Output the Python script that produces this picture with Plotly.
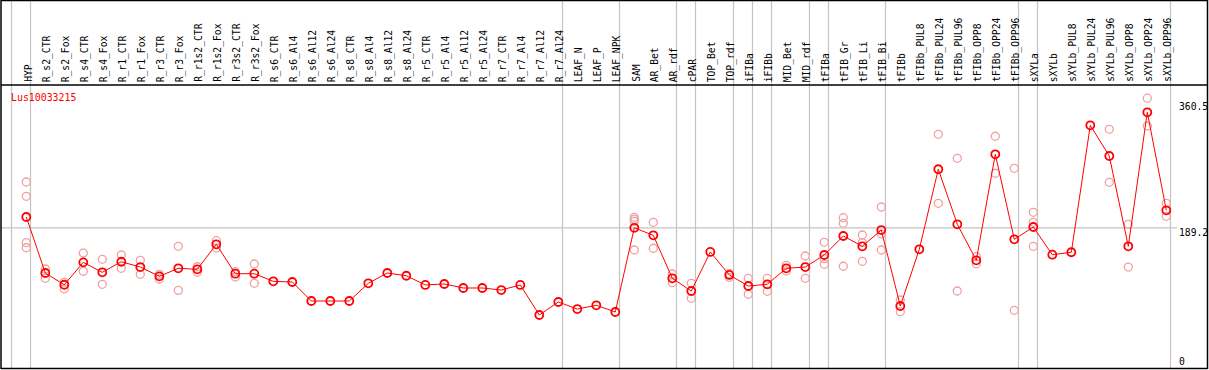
import plotly.graph_objects as go

# ---------------- data ----------------
categories = [
    "HYP", "R_s2_CTR", "R_s2_Fox", "R_s4_CTR", "R_s4_Fox", "R_r1_CTR", "R_r1_Fox",
    "R_r3_CTR", "R_r3_Fox", "R_r1s2_CTR", "R_r1s2_Fox", "R_r3s2_CTR", "R_r3s2_Fox",
    "R_s6_CTR", "R_s6_Al4", "R_s6_Al12", "R_s6_Al24", "R_s8_CTR", "R_s8_Al4",
    "R_s8_Al12", "R_s8_Al24", "R_r5_CTR", "R_r5_Al4", "R_r5_Al12", "R_r5_Al24",
    "R_r7_CTR", "R_r7_Al4", "R_r7_Al12", "R_r7_Al24", "LEAF_N", "LEAF_P", "LEAF_NPK",
    "SAM", "AR_Bet", "AR_rdf", "cPAR", "TOP_Bet", "TOP_rdf", "iFIBa", "iFIBb",
    "MID_Bet", "MID_rdf", "tFIBa", "tFIB_Gr", "tFIB_Li", "tFIB_Bi", "tFIBb",
    "tFIBb_PUL8", "tFIBb_PUL24", "tFIBb_PUL96", "tFIBb_OPP8", "tFIBb_OPP24",
    "tFIBb_OPP96", "sXYLa", "sXYLb", "sXYLb_PUL8", "sXYLb_PUL24", "sXYLb_PUL96",
    "sXYLb_OPP8", "sXYLb_OPP24", "sXYLb_OPP96",
]

mean_values = [
    203.5, 129.5, 114.0, 143.6, 130.4, 144.4, 137.4, 125.1, 135.7, 134.4,
    167.4, 128.6, 128.6, 118.5, 117.6, 92.5, 92.5, 92.5, 115.9, 129.5,
    125.9, 113.7, 115.0, 109.7, 109.7, 107.0, 113.7, 74.0, 91.2, 81.9,
    86.8, 78.0, 189.2, 179.3, 122.5, 105.7, 157.3, 126.9, 112.3, 114.6,
    135.7, 137.4, 153.3, 178.4, 164.8, 186.3, 85.9, 160.8, 266.6, 193.9,
    146.3, 286.4, 174.0, 190.3, 153.7, 156.9, 324.7, 284.1, 164.8, 341.9,
    212.4,
]

replicate_values = [
    [249.8, 230.9, 169.6, 162.9], [134.8, 122.5], [117.2, 108.4], [155.9, 131.8],
    [147.6, 114.6], [153.3, 135.7], [146.3, 127.8], [127.8, 121.6], [164.8, 106.6],
    [137.8, 130.4], [172.2, 162.5], [131.2, 124.2], [141.4, 115.9],
    [], [], [], [], [], [], [], [], [], [], [], [], [], [], [], [], [], [], [],
    [203.1, 200.5, 197.8, 159.9], [196.5, 162.2], [128.2, 116.7], [115.9, 96.1],
    [], [128.6, 123.8], [122.5, 101.4], [122.5, 105.3], [139.7, 132.2],
    [152.0, 122.5], [170.1, 148.4, 141.0], [202.6, 195.2, 138.4],
    [179.7, 169.6, 145.0], [216.7, 181.0, 159.9], [93.8, 78.4], [],
    [312.8, 221.6], [281.1, 105.7], [151.1, 141.8], [310.2, 261.3], [267.9, 80.2],
    [209.7, 196.5, 164.8], [], [], [], [319.4, 249.4], [193.9, 137.4],
    [360.5, 323.8], [221.6, 204.4],
]

gene_name = "Lus10033215"
group_ends = [-1, 0, 28, 31, 34, 35, 37, 38, 39, 41, 42, 45, 52, 53, 60]
reference_value = 189.2
y_tick_values = [360.5, 189.2, 0]
y_tick_labels = ["360.5", "189.2", "0"]

# ---------------- layout helpers ----------------
W, H = 1209, 370
X0_PX, STEP_PX = 26.3, 19.0          # pixel position of first category, spacing
Y0_PX, K_PX = 371.0, 0.7567          # pixel of value 0, pixels per unit

x_range = [-X0_PX / STEP_PX, (W - X0_PX) / STEP_PX]
y_range = [(Y0_PX - H) / K_PX, Y0_PX / K_PX]


def pxx(p):
    return p / W


def pyy(p):
    return 1 - p / H


FONT = "DejaVu Sans Mono, Liberation Mono, monospace"
RED = "#ff0000"
PINK = "#f0a0a0"
GRAY = "#c4c4c4"
BLACK = "#000000"

fig = go.Figure()

# replicates
rx, ry = [], []
for i, reps in enumerate(replicate_values):
    for v in reps:
        rx.append(i)
        ry.append(v)
fig.add_trace(go.Scatter(
    x=rx, y=ry, mode="markers", hoverinfo="skip",
    marker=dict(symbol="circle-open", size=8, color=PINK, line=dict(width=1.3, color=PINK)),
))

# means
fig.add_trace(go.Scatter(
    x=list(range(len(categories))), y=mean_values, mode="lines+markers",
    line=dict(color=RED, width=1),
    marker=dict(symbol="circle-open", size=8, color=RED, line=dict(width=1.8, color=RED)),
))

shapes = []
for g in group_ends:
    xs = g + 4.2 / STEP_PX
    shapes.append(dict(type="line", xref="x", yref="paper", x0=xs, x1=xs,
                       y0=pyy(368), y1=1, line=dict(color=GRAY, width=1.2), layer="below"))
shapes.append(dict(type="line", xref="paper", yref="y", x0=pxx(1), x1=pxx(1177),
                   y0=reference_value, y1=reference_value,
                   line=dict(color=GRAY, width=1.2), layer="below"))
shapes += [
    dict(type="line", xref="paper", yref="paper", x0=pxx(1), x1=pxx(1), y0=pyy(0), y1=pyy(369),
         line=dict(color=BLACK, width=1.5)),
    dict(type="line", xref="paper", yref="paper", x0=pxx(1207.5), x1=pxx(1207.5), y0=pyy(0),
         y1=pyy(369), line=dict(color=BLACK, width=1.5)),
    dict(type="line", xref="paper", yref="paper", x0=pxx(1), x1=pxx(1207.5), y0=pyy(368.5),
         y1=pyy(368.5), line=dict(color=BLACK, width=1.5)),
    dict(type="line", xref="paper", yref="paper", x0=pxx(1), x1=pxx(1207.5), y0=pyy(85),
         y1=pyy(85), line=dict(color=BLACK, width=1.5)),
    dict(type="line", xref="paper", yref="paper", x0=pxx(1), x1=pxx(1207.5), y0=pyy(0.5),
         y1=pyy(0.5), line=dict(color=BLACK, width=1.5)),
]

annotations = []
for i, c in enumerate(categories):
    annotations.append(dict(
        x=i, xref="x", y=pyy(83), yref="paper", text=c, showarrow=False,
        textangle=-90, xanchor="center", yanchor="bottom", xshift=1.5,
        font=dict(family=FONT, size=9.7, color=BLACK), borderpad=0,
    ))
annotations.append(dict(
    x=pxx(9.5), xref="paper", y=pyy(97), yref="paper", text=gene_name, showarrow=False,
    xanchor="left", yanchor="middle", font=dict(family=FONT, size=9.9, color=RED), borderpad=0,
))
label_center_px = {"360.5": 106.7, "189.2": 232.5, "0": 361.7}
for v, t in zip(y_tick_values, y_tick_labels):
    annotations.append(dict(
        x=pxx(1177.5), xref="paper", y=pyy(label_center_px[t]), yref="paper", text=t,
        showarrow=False, xanchor="left", yanchor="middle",
        font=dict(family=FONT, size=9.7, color=BLACK), borderpad=0,
    ))

fig.update_layout(
    width=W, height=H, autosize=False,
    margin=dict(l=0, r=0, t=0, b=0, pad=0),
    paper_bgcolor="white", plot_bgcolor="white",
    showlegend=False,
    xaxis=dict(range=x_range, visible=False, fixedrange=True),
    yaxis=dict(range=y_range, visible=False, fixedrange=True),
    shapes=shapes, annotations=annotations,
)

fig.write_html(
    "out.html",
    config={"displayModeBar": False},
    post_script="document.body.style.margin='0';document.body.style.overflow='hidden';",
)
